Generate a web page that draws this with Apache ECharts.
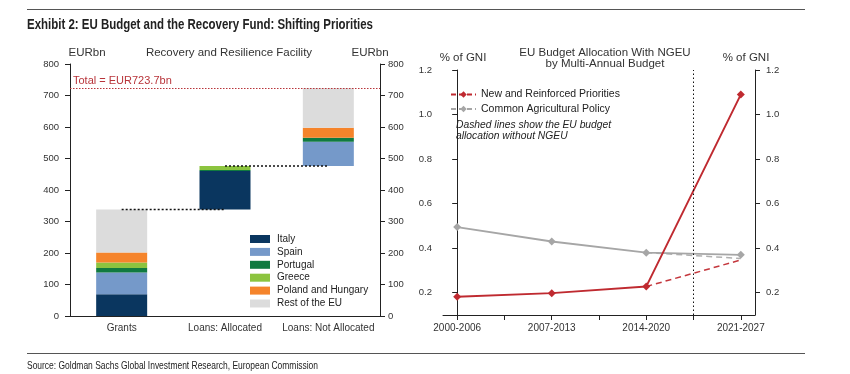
<!DOCTYPE html>
<html><head><meta charset="utf-8">
<script src="https://cdn.jsdelivr.net/npm/echarts@6/dist/echarts.min.js"></script>
<style>html,body{margin:0;padding:0;background:#fff}#c{width:850px;height:374px}</style>
</head><body><div id="c"></div>
<script>
// ---- Left chart data (EURbn) ----
const rrfCategories = ['Grants', 'Loans: Allocated', 'Loans: Not Allocated'];
const italy    = [68.9, 122.6, 0];
const spain    = [69.5, 0, 77.0];
const portugal = [13.9, 2.7, 12.7];
const greece   = [17.8, 12.7, 0];
const polHun   = [31.1, 0, 31.8];
const restEU   = [136.8, 0, 126.2];
const totalRRF = [723.7];
const eurTicks = [0, 100, 200, 300, 400, 500, 600, 700, 800];

// ---- Right chart data (% of GNI) ----
const periods = ['2000-2006', '2007-2013', '2014-2020', '2021-2027'];
const newPriorities      = [0.182, 0.198, 0.228, 1.09];
const newPrioritiesNoNGEU = [null, null, 0.228, 0.347];
const cap                = [0.495, 0.430, 0.380, 0.370];
const capNoNGEU          = [null, null, 0.380, 0.354];
const gniTicks = [0.2, 0.4, 0.6, 0.8, 1.0, 1.2];

const countrySeries = [
  ['Italy', italy, '#0a365f'],
  ['Spain', spain, '#7599c9'],
  ['Portugal', portugal, '#107a40'],
  ['Greece', greece, '#8cc43f'],
  ['Poland and Hungary', polHun, '#f5842b'],
  ['Rest of the EU', restEU, '#dcdcdc']
];
const totals = rrfCategories.map((_, i) => countrySeries.reduce((s, c) => s + c[1][i], 0));
const bases = totals.map((_, i) => totals.slice(0, i).reduce((s, v) => s + v, 0));
const tops = bases.map((b, i) => b + totals[i]);

const toXY = arr => arr.map((v, i) => v == null ? null : [i, v]).filter(d => d);

const txt = '#333';
const font = 'Liberation Sans, Arial, sans-serif';

const mctx = document.createElement('canvas').getContext('2d');
function fitScale(text, cssFont, targetW) {
  mctx.font = cssFont;
  return targetW / mctx.measureText(text).width;
}
const titleText = 'Exhibit 2: EU Budget and the Recovery Fund: Shifting Priorities';
const titleFont = 'bold 14px "Liberation Sans", Arial, sans-serif';
const srcText = 'Source: Goldman Sachs Global Investment Research, European Commission';
const srcFont = '10.5px "Liberation Sans", Arial, sans-serif';

const chart = echarts.init(document.getElementById('c'));

const series = [];
series.push({
  name: 'base', type: 'bar', stack: 'w', xAxisIndex: 0, yAxisIndex: 0,
  itemStyle: { color: 'transparent' }, barWidth: 51, silent: true,
  data: bases
});
countrySeries.forEach(([n, arr, col]) => {
  series.push({ name: n, type: 'bar', stack: 'w', xAxisIndex: 0, yAxisIndex: 0,
    barWidth: 51, itemStyle: { color: col }, data: arr });
});
for (let i = 0; i < rrfCategories.length - 1; i++) {
  series.push({ type: 'line', xAxisIndex: 0, yAxisIndex: 0, symbol: 'none', z: 5,
    lineStyle: { color: '#111', type: [2, 2], width: 1.5 },
    data: [[rrfCategories[i], tops[i]], [rrfCategories[i + 1], tops[i]]] });
}
series.push({ type: 'line', xAxisIndex: 0, yAxisIndex: 0, data: [], symbol: 'none',
  markLine: { silent: true, symbol: 'none',
    lineStyle: { color: '#b8343a', type: [1.5, 1.5], width: 1 },
    label: { show: true, position: 'insideStartTop', formatter: 'Total = EUR' + totalRRF[0] + 'bn',
      color: '#b8343a', fontSize: 11, fontFamily: font, distance: [3, 2] },
    data: [{ yAxis: totalRRF[0] }] } });

series.push({ name: 'New and Reinforced Priorities', type: 'line', xAxisIndex: 1, yAxisIndex: 2,
  data: toXY(newPriorities), symbol: 'diamond', symbolSize: 8, z: 4,
  lineStyle: { color: '#bf2a30', width: 1.8 }, itemStyle: { color: '#bf2a30' } });
series.push({ name: 'NRP no NGEU', type: 'line', xAxisIndex: 1, yAxisIndex: 2,
  data: toXY(newPrioritiesNoNGEU), symbol: 'none', z: 3,
  lineStyle: { color: '#c4373d', width: 1.5, type: [6, 4] } });
series.push({ name: 'Common Agricultural Policy', type: 'line', xAxisIndex: 1, yAxisIndex: 2,
  data: toXY(cap), symbol: 'diamond', symbolSize: 8, z: 3,
  lineStyle: { color: '#a6a6a6', width: 1.8 }, itemStyle: { color: '#a6a6a6' },
  markLine: { silent: true, symbol: 'none', label: { show: false },
    lineStyle: { color: '#111', type: [1.5, 2.5], width: 1 },
    data: [{ xAxis: 2.5 }] } });
series.push({ name: 'CAP no NGEU', type: 'line', xAxisIndex: 1, yAxisIndex: 2,
  data: toXY(capNoNGEU), symbol: 'none', z: 2,
  lineStyle: { color: '#b0b0b0', width: 1.5, type: [6, 4] } });

const axLine = { show: true, lineStyle: { color: '#222', width: 1 } };
const eurAxis = (pos, margin) => ({
  type: 'value', gridIndex: 0, position: pos, min: 0, max: 800, interval: 100,
  axisLine: axLine, axisTick: { show: true, length: 5, lineStyle: { color: '#222' } },
  axisLabel: { color: txt, fontSize: 9.5, fontFamily: font, margin: margin },
  splitLine: { show: false }
});
const gniAxis = (pos) => ({
  type: 'value', gridIndex: 1, position: pos, min: 0.1, max: 1.2,
  axisLine: axLine,
  axisTick: { show: true, length: 5, customValues: gniTicks, lineStyle: { color: '#222' } },
  axisLabel: { color: txt, fontSize: 9.5, fontFamily: font, margin: 11, customValues: gniTicks,
    formatter: v => v.toFixed(1) },
  splitLine: { show: false }
});
const tStyle = { fontSize: 11.5, fontWeight: 'normal', color: txt, fontFamily: font };

chart.setOption({
  animation: false,
  textStyle: { fontFamily: font },
  grid: [
    { left: 70, right: 470, top: 64, bottom: 58 },
    { left: 443, right: 95, top: 70, bottom: 59 }
  ],
  xAxis: [
    { type: 'category', gridIndex: 0, data: rrfCategories,
      axisLine: axLine, axisTick: { show: false },
      axisLabel: { color: txt, fontSize: 10, fontFamily: font, margin: 7, interval: 0 } },
    { type: 'value', gridIndex: 1, min: -0.15, max: 3.15,
      axisLine: axLine,
      axisTick: { show: true, length: 5, customValues: [0, 0.5, 1, 1.5, 2, 2.5, 3], lineStyle: { color: '#222' } },
      axisLabel: { color: txt, fontSize: 10, fontFamily: font, margin: 8,
        customValues: periods.map((_, i) => i), formatter: v => periods[Math.round(v)] },
      splitLine: { show: false } }
  ],
  yAxis: [ eurAxis('left', 11), eurAxis('right', 8), gniAxis('left'), gniAxis('right') ],
  legend: [
    { data: countrySeries.map(c => c[0]), orient: 'vertical', left: 250, top: 234,
      itemWidth: 20, itemHeight: 8, itemGap: 2.9, icon: 'rect',
      textStyle: { color: '#222', fontSize: 10, fontFamily: font, padding: [0, 0, 0, 2] }, padding: 0 },
    { data: [
        { name: 'New and Reinforced Priorities', lineStyle: { type: [5, 3] } },
        { name: 'Common Agricultural Policy', lineStyle: { type: [5, 3] } }
      ], orient: 'vertical', left: 450, top: 89,
      itemWidth: 25, itemHeight: 8, itemGap: 3.5,
      textStyle: { color: '#222', fontSize: 10.5, fontFamily: font }, padding: 0 }
  ],
  title: [
    { text: 'EURbn', left: 82, top: 42, textAlign: 'center', textStyle: tStyle },
    { text: 'Recovery and Resilience Facility', left: 224, top: 42, textAlign: 'center', textStyle: tStyle },
    { text: 'EURbn', left: 365, top: 42, textAlign: 'center', textStyle: tStyle },
    { text: 'EU Budget Allocation With NGEU\nby Multi-Annual Budget', left: 600, top: 42, textAlign: 'center',
      textStyle: Object.assign({}, tStyle, { lineHeight: 11 }) },
    { text: '% of GNI', left: 458, top: 47, textAlign: 'center', textStyle: tStyle },
    { text: '% of GNI', left: 741, top: 47, textAlign: 'center', textStyle: tStyle }
  ],
  graphic: [
    { type: 'line', shape: { x1: 27, y1: 9.5, x2: 805, y2: 9.5 }, style: { stroke: '#555', lineWidth: 1 } },
    { type: 'text', x: 27, y: 18.5, scaleX: fitScale(titleText, titleFont, 346),
      style: { text: titleText, font: titleFont, fill: '#222' } },
    { type: 'text', left: 456, top: 120, style: { text: 'Dashed lines show the EU budget\nallocation without NGEU',
      font: 'italic 10.3px Liberation Sans, Arial, sans-serif', fill: '#222', lineHeight: 11 } },
    { type: 'line', shape: { x1: 27, y1: 353.5, x2: 805, y2: 353.5 }, style: { stroke: '#555', lineWidth: 1 } },
    { type: 'text', x: 27, y: 361, scaleX: fitScale(srcText, srcFont, 291),
      style: { text: srcText, font: srcFont, fill: '#222' } }
  ],
  series: series
});
</script></body></html>
